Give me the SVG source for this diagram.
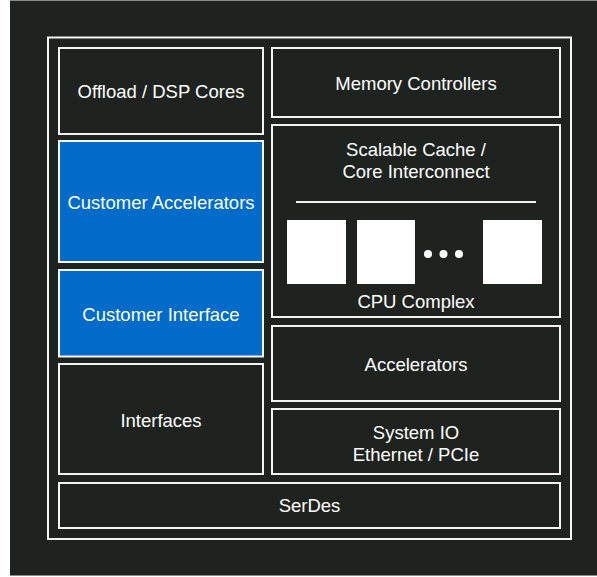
<svg xmlns="http://www.w3.org/2000/svg" width="597" height="577" viewBox="0 0 597 577">
<style>
.box{fill:#1f2320;stroke:#f4f4f4;stroke-width:2}
.blue{fill:#006bc9;stroke:#f4f4f4;stroke-width:2}
.t{font-family:"Liberation Sans",Arial,Helvetica,sans-serif;font-size:18.5px;fill:#ffffff;text-anchor:middle}
.core{fill:#ffffff}
</style>
<rect x="0" y="0" width="597" height="577" fill="#ffffff"/>
<rect x="10" y="0" width="587" height="575" fill="#1f2320"/>
<line x1="10" y1="0.5" x2="597" y2="0.5" stroke="#8a8a8a" stroke-width="1"/>
<line x1="10" y1="575.5" x2="597" y2="575.5" stroke="#8a8a8a" stroke-width="1"/>
<g id="chip">
<rect class="box" x="48" y="37.5" width="523" height="501.5"/>
</g>
<g id="offload"><rect class="box" x="59" y="48" width="204" height="86"/><text class="t" x="161" y="97.5">Offload / DSP Cores</text></g>
<g id="memory"><rect class="box" x="272" y="48" width="288" height="69"/><text class="t" x="416" y="89.5">Memory Controllers</text></g>
<g id="cust-acc"><rect class="blue" x="59" y="141" width="204" height="121"/><text class="t" x="161" y="208.5">Customer Accelerators</text></g>
<g id="cust-if"><rect class="blue" x="59" y="270" width="204" height="86.5"/><text class="t" x="161" y="320.5">Customer Interface</text></g>
<g id="interfaces"><rect class="box" x="59" y="364" width="204" height="110"/><text class="t" x="161" y="426.5">Interfaces</text></g>
<g id="cpu">
<rect class="box" x="272" y="125" width="288" height="192"/>
<text class="t" x="416" y="156">Scalable Cache /</text>
<text class="t" x="416" y="178">Core Interconnect</text>
<line x1="296" y1="202" x2="536" y2="202" stroke="#f4f4f4" stroke-width="2"/>
<rect class="core" x="287" y="220" width="59" height="64"/>
<rect class="core" x="357" y="220" width="58" height="64"/>
<rect class="core" x="483" y="220" width="59" height="64"/>
<circle class="core" cx="428" cy="254" r="4"/>
<circle class="core" cx="443.5" cy="254" r="4"/>
<circle class="core" cx="459" cy="254" r="4"/>
<text class="t" x="416" y="308">CPU Complex</text>
</g>
<g id="accelerators"><rect class="box" x="272" y="326" width="288" height="75"/><text class="t" x="416" y="370.5">Accelerators</text></g>
<g id="sysio"><rect class="box" x="272" y="409" width="288" height="65"/><text class="t" x="416" y="438.5">System IO</text><text class="t" x="416" y="460.5">Ethernet / PCIe</text></g>
<g id="serdes"><rect class="box" x="59" y="483" width="501" height="45"/><text class="t" x="309.5" y="512">SerDes</text></g>
<g id="connectors"></g>
</svg>
